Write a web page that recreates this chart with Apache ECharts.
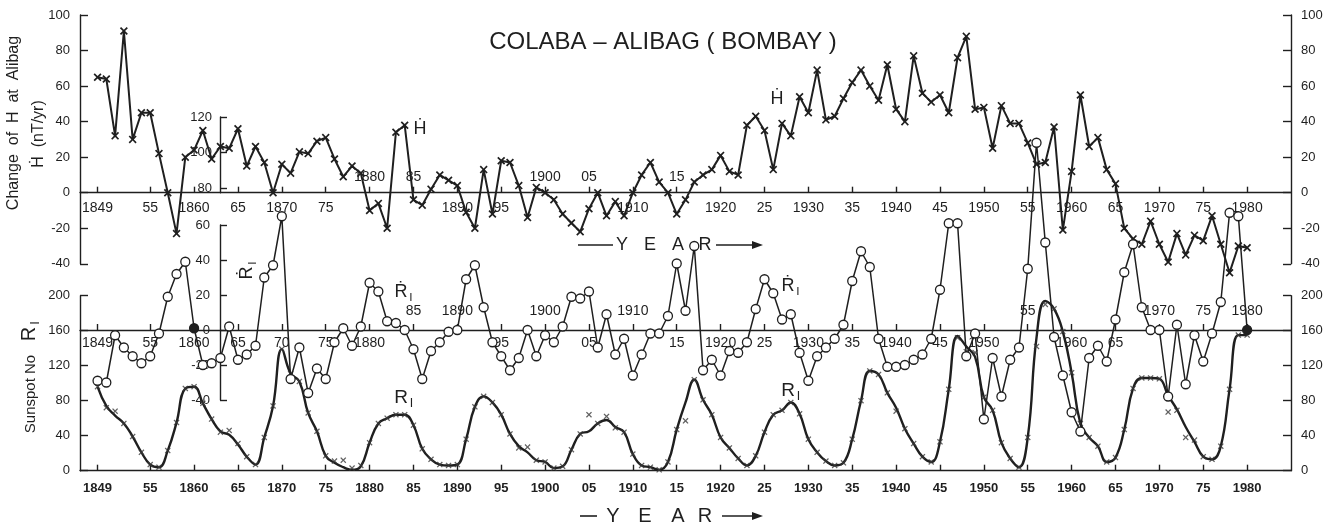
<!DOCTYPE html>
<html>
<head>
<meta charset="utf-8">
<title>Colaba - Alibag (Bombay)</title>
<script src="https://cdn.jsdelivr.net/npm/echarts@6/dist/echarts.min.js"></script>
<style>
html, body { margin: 0; padding: 0; background: #fff; }
#main { width: 1341px; height: 528px; }
</style>
</head>
<body>
<div id="main"></div>
<script>
// yearly values, first entry is 1849, last is 1980
var firstYear = 1849;

// change of H at Alibag (nT/yr)
var hDot = [
    65, 64, 32, 91, 30, 45, 45, 22, 0, -23,
    20, 24, 35, 19, 26, 25, 36, 15, 26, 17,
    0, 16, 11, 23, 22, 29, 31, 19, 9, 15,
    11, -10, -6, -20, 34, 38, -4, -7, 2, 10,
    7, 4, -11, -20, 13, -12, 18, 17, 4, -14,
    3, 0, -4, -12, -17, -22, -9, 0, -13, -5,
    -13, 0, 10, 17, 6, 0, -12, -4, 6, 10,
    13, 21, 12, 10, 38, 43, 35, 13, 39, 32,
    54, 45, 69, 41, 43, 53, 62, 69, 60, 52,
    72, 47, 40, 77, 56, 51, 55, 45, 76, 88,
    47, 48, 25, 49, 39, 39, 28, 16, 17, 37,
    -21, 12, 55, 26, 31, 13, 5, -20, -26, -29,
    -16, -29, -39, -23, -35, -24, -27, -13, -29, -45,
    -30, -31
];

// yearly change of sunspot number
var rDot = [
    -29, -30, -3, -10, -15, -19, -15, -2, 19, 32,
    39, 1, -20, -19, -16, 2, -17, -14, -9, 30,
    37, 65, -28, -10, -36, -22, -28, -7, 1, -9,
    2, 27, 22, 5, 4, 0, -11, -28, -12, -7,
    -1, 0, 29, 37, 13, -7, -15, -23, -16, 0,
    -15, -3, -7, 2, 19, 18, 22, -10, 9, -14,
    -5, -26, -14, -2, -2, 8, 38, 11, 48, -23,
    -17, -26, -12, -13, -7, 12, 29, 21, 6, 9,
    -13, -29, -15, -10, -5, 3, 28, 45, 36, -5,
    -21, -21, -20, -17, -14, -5, 23, 61, 61, -15,
    -2, -51, -16, -38, -17, -10, 35, 107, 50, -4,
    -26, -47, -58, -16, -9, -18, 6, 33, 49, 13,
    0, 0, -38, 3, -31, -3, -18, -2, 16, 67,
    65, 0
];

// sunspot number, the x marks
var sunspotMarks = [
    96, 72, 68, 54, 39, 21, 7, 4, 23, 55,
    94, 96, 77, 59, 44, 46, 31, 16, 7, 38,
    74, 139, 111, 102, 66, 45, 17, 11, 12, 3,
    6, 32, 54, 60, 64, 64, 52, 25, 13, 7,
    6, 7, 36, 73, 85, 78, 64, 42, 26, 27,
    12, 10, 3, 5, 24, 42, 64, 54, 62, 49,
    44, 19, 6, 4, 1, 10, 47, 57, 104, 81,
    64, 38, 26, 14, 6, 17, 44, 64, 69, 78,
    65, 36, 21, 11, 6, 9, 36, 80, 114, 110,
    89, 68, 48, 31, 16, 10, 33, 93, 152, 136,
    135, 84, 69, 32, 14, 4, 38, 142, 190, 185,
    159, 112, 54, 38, 28, 10, 15, 47, 94, 106,
    106, 105, 67, 69, 38, 35, 16, 13, 28, 93,
    155, 155
];

// sunspot number, the drawn smooth curve
var sunspotCurve = [
    96, 74, 63, 54, 39, 21, 7, 4, 23, 55,
    94, 96, 77, 59, 45, 41, 30, 16, 7, 38,
    74, 139, 111, 102, 66, 45, 17, 9, 4, 1,
    5, 32, 54, 60, 64, 64, 52, 25, 13, 7,
    6, 7, 36, 73, 85, 78, 64, 42, 28, 21,
    12, 10, 3, 5, 24, 42, 45, 54, 58, 50,
    44, 19, 6, 4, 1, 10, 47, 78, 104, 81,
    64, 38, 26, 14, 6, 17, 44, 64, 69, 78,
    65, 36, 21, 11, 6, 9, 36, 80, 114, 110,
    89, 72, 48, 31, 16, 10, 33, 93, 154, 142,
    130, 84, 69, 32, 14, 4, 38, 152, 194, 185,
    159, 112, 54, 38, 28, 10, 15, 47, 94, 106,
    106, 105, 86, 70, 50, 33, 16, 13, 28, 93,
    155, 155
];

var tickYears = [1849, 1855, 1860, 1865, 1870, 1875, 1880, 1885, 1890, 1895,
    1900, 1905, 1910, 1915, 1920, 1925, 1930, 1935, 1940, 1945,
    1950, 1955, 1960, 1965, 1970, 1975, 1980];
var hAboveYears = [1880, 1885, 1900, 1905, 1915];
var rDotAboveYears = [1885, 1890, 1900, 1910, 1955, 1970, 1975, 1980];
var filledYears = [1860, 1980];
var innerTicks = [80, 100, 120];

var ink = '#1f1f1f';
var font = "'Liberation Sans', 'DejaVu Sans', Arial, sans-serif";
var xMin = 1847, xMax = 1985;
var crossPath = 'path://M0,1.5L1.5,0L5,3.5L8.5,0L10,1.5L6.5,5L10,8.5L8.5,10L5,6.5L1.5,10L0,8.5L3.5,5Z';

function yearLabel(y) {
    if (y === 1849 || y % 10 === 0) return String(y);
    var s = String(y % 100);
    return s.length < 2 ? '0' + s : s;
}
function rDotLabel(y) {
    return y === 1870 ? '70' : yearLabel(y);
}
function without(list, drop) {
    return list.filter(function (y) { return drop.indexOf(y) < 0; });
}
function pairs(values) {
    return values.map(function (v, i) { return [firstYear + i, v]; });
}

var lineStyle = { color: ink, width: 1.4 };
var labelStyle = { color: ink, fontFamily: font, fontSize: 13 };

// year axis drawn on the bottom edge of its grid
function yearAxis(grid, labelYears, fmt, opts) {
    return {
        gridIndex: grid, type: 'value', min: xMin, max: xMax, position: 'bottom',
        splitLine: { show: false },
        axisLine: { show: !opts.above, onZero: false, lineStyle: lineStyle },
        axisTick: { show: !opts.above, inside: true, length: 6, customValues: tickYears, lineStyle: lineStyle },
        axisLabel: Object.assign({}, labelStyle, {
            inside: !!opts.above, margin: opts.margin, customValues: labelYears,
            formatter: fmt, fontSize: opts.size || 14, fontWeight: opts.weight || 'normal'
        })
    };
}
function scaleAxis(grid, pos, min, max, interval, extra) {
    return Object.assign({
        gridIndex: grid, type: 'value', position: pos, min: min, max: max, interval: interval,
        splitLine: { show: false },
        axisLine: { show: true, onZero: false, lineStyle: lineStyle },
        axisTick: { inside: true, length: 8, lineStyle: lineStyle },
        axisLabel: Object.assign({}, labelStyle, { margin: 10 })
    }, extra || {});
}
function hiddenAxis(grid, min, max) {
    return { gridIndex: grid, type: 'value', min: min, max: max, show: false, axisLine: { onZero: false } };
}

var rDotData = pairs(rDot).map(function (p) {
    if (filledYears.indexOf(p[0]) >= 0) {
        return { value: p, itemStyle: { color: ink } };
    }
    return p;
});

function text(x, y, s, size, weight) {
    return {
        type: 'text', x: x, y: y, silent: true,
        style: { text: s, fill: ink, fontFamily: font, fontSize: size, fontWeight: weight || 'normal',
            align: 'center', verticalAlign: 'middle' }
    };
}
function withSub(x, y, main, size, rotation) {
    return {
        type: 'group', x: x, y: y, rotation: rotation || 0, silent: true,
        children: [text(0, 0, main, size), text(size * 0.55, size * 0.3, 'I', size * 0.65)]
    };
}
function rotated(x, y, s, size) {
    return { type: 'group', x: x, y: y, rotation: Math.PI / 2, silent: true, children: [text(0, 0, s, size)] };
}
function yearArrow(y, x0, x1, letterXs, size, a0, a1) {
    var els = [
        { type: 'line', shape: { x1: x0, y1: y, x2: x1, y2: y }, style: { stroke: ink, lineWidth: 1.6 } },
        { type: 'line', shape: { x1: a0, y1: y, x2: a1 - 4, y2: y }, style: { stroke: ink, lineWidth: 1.6 } },
        { type: 'polygon', shape: { points: [[a1, y], [a1 - 11, y - 4], [a1 - 11, y + 4]] }, style: { fill: ink } }
    ];
    'YEAR'.split('').forEach(function (c, i) { els.push(text(letterXs[i], y, c, size)); });
    return els;
}

var myChart = echarts.init(document.getElementById('main'));

var option = {
    backgroundColor: '#fff',
    animation: false,
    grid: [
        { left: 80, right: 50, top: 15, height: 248.8 },     // 0: H dot
        { left: 80, right: 50, top: 225, height: 175 },      // 1: R dot
        { left: 80, right: 50, top: 295.7, height: 175 },    // 2: sunspot number
        { left: 220, width: 1, top: 225, height: 175 },      // 3: R dot scale
        { left: 220, width: 1, top: 117, height: 75.7 },     // 4: inner 80-120 scale
        { left: 80, right: 50, top: 15, height: 177.7 },     // 5: year line at H dot = 0
        { left: 80, right: 50, top: 225, height: 105 }       // 6: year line at R dot = 0
    ],
    xAxis: [
        hiddenAxis(0, xMin, xMax),
        hiddenAxis(1, xMin, xMax),
        yearAxis(2, tickYears, yearLabel, { margin: 11, size: 13, weight: 'bold' }),
        hiddenAxis(3, 0, 1),
        hiddenAxis(4, 0, 1),
        yearAxis(5, without(tickYears, hAboveYears), yearLabel, { margin: 8 }),
        yearAxis(5, hAboveYears, yearLabel, { above: true, margin: 9 }),
        yearAxis(6, without(tickYears, rDotAboveYears), rDotLabel, { margin: 6 }),
        yearAxis(6, rDotAboveYears, rDotLabel, { above: true, margin: 12 })
    ],
    yAxis: [
        scaleAxis(0, 'left', -40, 100, 20),
        scaleAxis(0, 'right', -40, 100, 20),
        hiddenAxis(1, -40, 60),
        scaleAxis(2, 'left', 0, 200, 40),
        scaleAxis(2, 'right', 0, 200, 40),
        scaleAxis(3, 'left', -40, 60, 20, { axisTick: { inside: true, length: 7, lineStyle: lineStyle } }),
        scaleAxis(4, 'left', 77.4, 120, null, {
            axisTick: { inside: true, length: 7, customValues: innerTicks, lineStyle: lineStyle },
            axisLabel: Object.assign({}, labelStyle, { margin: 8, customValues: innerTicks })
        }),
        hiddenAxis(5, 0, 100),
        hiddenAxis(6, 0, 60)
    ],
    series: [
        {
            name: 'R_I curve', type: 'line', xAxisIndex: 2, yAxisIndex: 3,
            data: pairs(sunspotCurve), smooth: 0.45, showSymbol: false,
            clip: false, lineStyle: { color: ink, width: 2.4 }, z: 2
        },
        {
            name: 'R_I', type: 'scatter', xAxisIndex: 2, yAxisIndex: 3,
            data: pairs(sunspotMarks), symbol: crossPath, symbolSize: 6,
            itemStyle: { color: '#3a3a3a' }, z: 3
        },
        {
            name: 'H dot', type: 'line', xAxisIndex: 0, yAxisIndex: 0,
            data: pairs(hDot), symbol: crossPath, symbolSize: 8, clip: false,
            lineStyle: { color: ink, width: 2 }, itemStyle: { color: ink }, z: 4
        },
        {
            name: 'R_I dot', type: 'line', xAxisIndex: 1, yAxisIndex: 2,
            data: rDotData, symbol: 'circle', symbolSize: 9, clip: false,
            lineStyle: { color: ink, width: 1.5 },
            itemStyle: { color: '#fff', borderColor: ink, borderWidth: 1.3 }, z: 5
        }
    ],
    graphic: {
        elements: [
            text(663, 42, 'COLABA – ALIBAG ( BOMBAY )', 24),
            text(420, 129, 'Ḣ', 18),
            text(777, 99, 'Ḣ', 18),
            withSub(401, 292, 'Ṙ', 18),
            withSub(788, 286, 'Ṙ', 18),
            withSub(401, 398, 'R', 19),
            withSub(788, 391, 'R', 19),
            withSub(247, 273, 'Ṙ', 18, Math.PI / 2),
            rotated(14, 123, 'Change  of  H  at  Alibag', 16),
            rotated(39, 134, 'Ḣ  (nT/yr)', 16),
            withSub(29, 334, 'R', 20, Math.PI / 2),
            rotated(31, 394, 'Sunspot No', 15)
        ].concat(
            yearArrow(245, 578, 613, [622, 650, 678, 705], 18, 716, 763),
            yearArrow(516, 580, 597, [613, 645, 678, 705], 20, 722, 763)
        )
    }
};

myChart.setOption(option);
</script>
</body>
</html>
